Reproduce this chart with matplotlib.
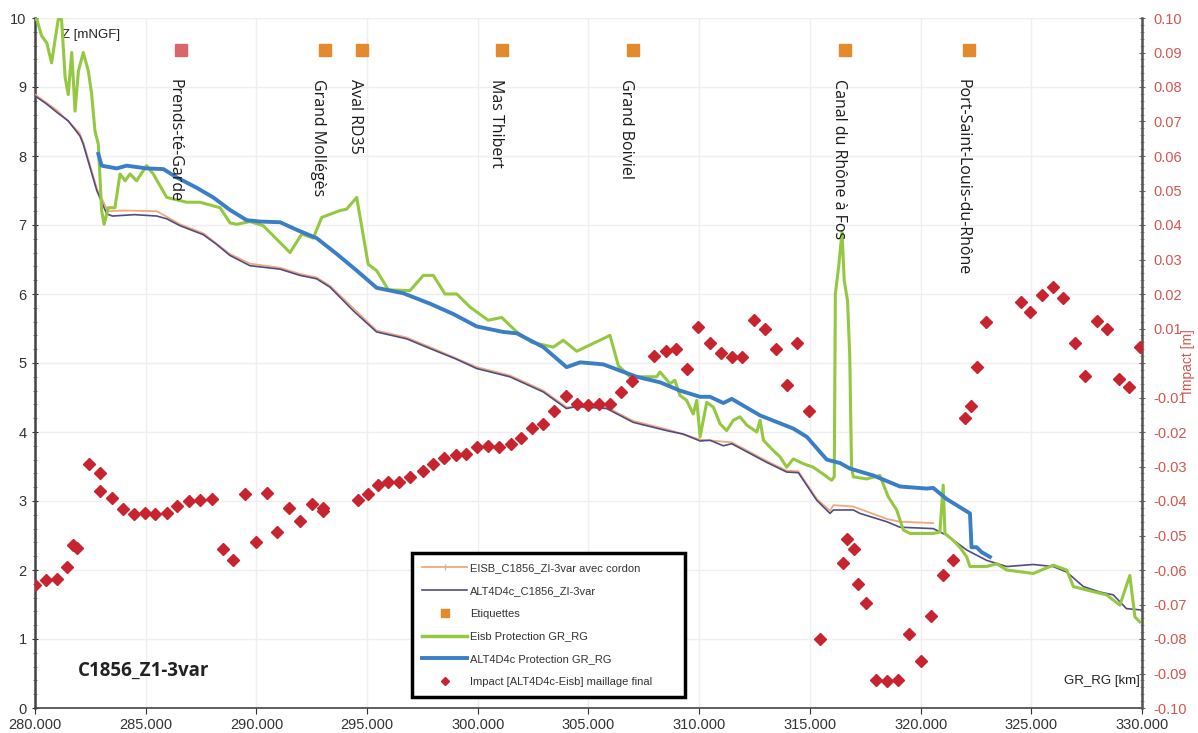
import matplotlib
matplotlib.use("Agg")
import matplotlib.pyplot as plt
from matplotlib.lines import Line2D
from matplotlib.ticker import MultipleLocator, FuncFormatter

# ---------------- data ----------------
# ALT4D4c_C1856_ZI-3var (thin navy line)
alt_km = [280.0, 280.5, 281.0, 281.5, 282.03, 282.18, 282.79, 283.24, 283.5, 284.5, 285.5, 285.95,
          286.55, 287.6, 288.2, 288.8, 289.71, 291.07, 291.97, 292.72, 293.32, 294.4, 295.43, 296.79,
          297.84, 299.0, 299.95, 301.45, 302.96, 304.0, 304.47, 305.82, 307.02, 308.53, 309.28, 310.04,
          310.49, 311.09, 311.47, 313.05, 313.95, 314.48, 315.31, 315.91, 316.06, 316.96, 317.26, 318.47,
          319.07, 320.57, 321.2, 322.08, 322.98, 323.89, 325.09, 325.99, 326.6, 327.35, 328.1, 328.7,
          329.3, 330.0]
alt_z = [8.87, 8.76, 8.63, 8.51, 8.29, 8.17, 7.50, 7.16, 7.13, 7.15, 7.13, 7.09,
         6.99, 6.86, 6.72, 6.56, 6.41, 6.36, 6.27, 6.22, 6.10, 5.75, 5.45, 5.35,
         5.21, 5.06, 4.92, 4.80, 4.58, 4.34, 4.37, 4.34, 4.14, 4.02, 3.97, 3.87,
         3.88, 3.80, 3.83, 3.56, 3.42, 3.41, 3.01, 2.82, 2.87, 2.87, 2.82, 2.70,
         2.62, 2.60, 2.50, 2.29, 2.14, 2.05, 2.08, 2.05, 1.97, 1.76, 1.68, 1.64,
         1.44, 1.42]

# EISB_C1856_ZI-3var avec cordon (thin orange line)
eisb_km = [280.0, 281.0, 282.0, 282.18, 282.8, 283.3, 283.99, 285.5, 285.95, 286.55, 287.6, 288.8,
           289.71, 291.07, 291.97, 292.72, 293.32, 295.43, 296.79, 297.84, 299.95, 301.45, 302.96, 304.0,
           305.82, 307.02, 308.53, 310.04, 311.47, 313.05, 313.95, 314.48, 315.31, 315.91, 316.06, 316.96,
           318.47, 319.07, 320.57]
eisb_z = [8.89, 8.66, 8.34, 8.20, 7.52, 7.20, 7.21, 7.20, 7.12, 7.01, 6.88, 6.58,
          6.44, 6.38, 6.29, 6.24, 6.12, 5.47, 5.37, 5.23, 4.94, 4.82, 4.60, 4.36,
          4.36, 4.16, 4.04, 3.89, 3.85, 3.58, 3.44, 3.43, 3.03, 2.86, 2.94, 2.92,
          2.74, 2.70, 2.68]

# ALT4D4c Protection GR_RG (thick blue line)
prot_alt_km = [282.86, 283.01, 283.69, 284.14, 285.04, 285.8, 286.4, 287.3, 288.05, 288.8, 289.56, 290.16,
               291.07, 291.82, 292.72, 293.63, 294.53, 295.43, 296.64, 297.84, 298.89, 299.95, 301.15,
               301.76, 302.96, 304.01, 304.62, 305.67, 306.42, 307.18, 308.23, 309.13, 310.04, 310.49,
               311.09, 311.47, 312.75, 314.25, 314.86, 315.76, 316.36, 316.81, 317.86, 319.07, 320.28,
               320.57, 321.17, 322.23, 322.3, 322.53, 322.75, 323.13]
prot_alt_z = [8.03, 7.86, 7.82, 7.86, 7.82, 7.81, 7.69, 7.54, 7.40, 7.22, 7.07, 7.05,
              7.04, 6.93, 6.81, 6.58, 6.34, 6.09, 6.01, 5.86, 5.71, 5.53, 5.45,
              5.43, 5.23, 4.94, 5.01, 4.98, 4.89, 4.80, 4.72, 4.60, 4.51, 4.51,
              4.42, 4.48, 4.24, 4.05, 3.93, 3.60, 3.55, 3.47, 3.37, 3.21, 3.18,
              3.19, 3.03, 2.82, 2.33, 2.33, 2.26, 2.19]

# Eisb Protection GR_RG (green line)
prot_eisb_km = [280.0, 280.08, 280.3, 280.53, 280.75, 280.9, 281.05, 281.2, 281.36, 281.5, 281.66, 281.81,
                281.96, 282.18, 282.41, 282.56, 282.71, 282.86, 283.01, 283.12, 283.31, 283.61, 283.84,
                284.07, 284.29, 284.59, 285.04, 285.34, 285.95, 286.85, 287.45, 288.36, 288.81, 289.11,
                289.71, 290.31, 291.52, 292.05, 292.57, 292.95, 293.78, 294.08, 294.53, 295.05, 295.43,
                295.96, 296.94, 297.54, 297.99, 298.52, 299.05, 299.65, 300.47, 301.08, 301.76, 302.44,
                303.41, 303.86, 304.47, 305.97, 306.35, 306.88, 308.08, 308.23, 308.68, 308.9, 309.13,
                309.43, 309.73, 309.89, 310.04, 310.34, 310.64, 310.94, 311.24, 311.54, 311.84, 312.15,
                312.6, 312.75, 312.9, 313.35, 313.65, 313.95, 314.25, 314.7, 315.15, 315.6, 315.98,
                316.1, 316.15, 316.3, 316.45, 316.55, 316.7, 316.8, 316.88, 316.96, 317.56, 318.16,
                318.54, 318.92, 319.22, 319.52, 320.57, 320.87, 321.02, 321.1, 321.47, 321.77, 322.08,
                322.23, 322.98, 323.43, 323.89, 325.09, 325.99, 326.6, 326.9, 327.5, 328.4, 329.0,
                329.45, 329.68, 329.9]
prot_eisb_z = [9.98, 9.98, 9.74, 9.64, 9.35, 9.67, 9.98, 9.98, 9.14, 8.89, 9.50, 8.65,
               9.23, 9.50, 9.23, 8.89, 8.36, 8.17, 7.21, 7.01, 7.25, 7.25, 7.74,
               7.64, 7.74, 7.64, 7.86, 7.74, 7.40, 7.33, 7.33, 7.25, 7.03, 7.01,
               7.05, 6.99, 6.60, 6.87, 6.81, 7.11, 7.21, 7.23, 7.40, 6.43, 6.34,
               6.06, 6.05, 6.27, 6.27, 6.00, 6.00, 5.81, 5.62, 5.66, 5.45, 5.30,
               5.23, 5.33, 5.17, 5.40, 4.96, 4.80, 4.80, 4.87, 4.70, 4.75, 4.53,
               4.46, 4.26, 4.46, 3.93, 4.43, 4.36, 4.12, 4.02, 4.17, 4.22, 4.10,
               4.00, 4.17, 3.88, 3.73, 3.64, 3.49, 3.61, 3.54, 3.49, 3.39, 3.30,
               3.35, 6.00, 6.40, 6.90, 6.20, 5.90, 5.10, 3.50, 3.35, 3.32, 3.37,
               3.06, 2.87, 2.58, 2.53, 2.53, 2.55, 3.23, 2.53, 2.43, 2.33, 2.19,
               2.05, 2.05, 2.09, 2.00, 1.95, 2.07, 2.00, 1.76, 1.71, 1.64, 1.49,
               1.92, 1.32, 1.25]

# Impact [ALT4D4c-Eisb] maillage final (red diamonds, right axis)
impact_km = [280.0, 280.5, 281.0, 281.46, 281.73, 281.91, 282.45, 282.94, 282.94, 283.5, 283.96, 284.47,
             284.95, 285.43, 285.98, 286.43, 286.97, 287.45, 287.99, 288.48, 288.96, 289.49, 289.97,
             290.49, 290.94, 291.49, 291.97, 292.5, 293.0, 293.02, 294.57, 295.03, 295.48, 295.96,
             296.44, 296.94, 297.51, 297.96, 298.49, 299.0, 299.47, 299.95, 300.45, 300.97, 301.49,
             301.96, 302.45, 302.96, 303.46, 303.98, 304.47, 304.96, 305.49, 305.97, 306.47, 306.98,
             307.97, 308.49, 308.97, 309.46, 309.96, 310.47, 310.97, 311.47, 311.95, 312.47, 312.98,
             313.47, 313.95, 314.43, 314.96, 315.46, 316.48, 316.69, 316.99, 317.18, 317.52, 318.0,
             318.5, 318.99, 319.48, 320.02, 320.47, 320.99, 321.47, 322.0, 322.26, 322.53, 322.94,
             324.52, 324.94, 325.48, 325.96, 326.44, 326.97, 327.42, 327.95, 328.44, 328.96, 329.42,
             329.92]
impact_m = [-0.0644, -0.063, -0.0626, -0.059, -0.0528, -0.0536, -0.0294, -0.032, -0.037, -0.039, -0.0422,
            -0.0437, -0.0435, -0.0438, -0.0435, -0.0415, -0.040, -0.0396, -0.0394, -0.054, -0.057, -0.038,
            -0.052, -0.0377, -0.049, -0.042, -0.0459, -0.041, -0.043, -0.042, -0.0396, -0.038, -0.0354,
            -0.0346, -0.0346, -0.033, -0.0313, -0.0292, -0.0274, -0.0268, -0.0264, -0.0244, -0.024,
            -0.0244, -0.0234, -0.0218, -0.0187, -0.0176, -0.0138, -0.0097, -0.012, -0.0123, -0.012,
            -0.0118, -0.0085, -0.0053, 0.0021, 0.0036, 0.004, -0.0018, 0.0105, 0.0058, 0.003, 0.0017,
            0.0017, 0.0126, 0.0099, 0.004, -0.0063, 0.0057, -0.0138, -0.080, -0.058, -0.051, -0.0538,
            -0.064, -0.0697, -0.0919, -0.0922, -0.0919, -0.0786, -0.0863, -0.0734, -0.0614, -0.057,
            -0.0158, -0.0126, -0.0012, 0.0118, 0.0178, 0.0147, 0.0197, 0.0221, 0.0189, 0.0057, -0.0037,
            0.0123, 0.0098, -0.0046, -0.007, 0.0046]

# Etiquettes (site labels)
label_km = [286.6, 293.1, 294.77, 301.1, 307.0, 316.6, 322.2]
label_names = ["Prends-té-Garde", "Grand Mollégès", "Aval RD35", "Mas Thibert",
               "Grand Boiviel", "Canal du Rhône à Fos", "Port-Saint-Louis-du-Rhône"]
label_colors = ["#d9666a", "#e38a2c", "#e38a2c", "#e38a2c", "#e38a2c", "#e38a2c", "#e38a2c"]
label_marker_z = 9.53
label_text_z = 9.12

x_ticks = [280, 285, 290, 295, 300, 305, 310, 315, 320, 325, 330]

# ---------------- styles ----------------
C_ORANGE = "#f2a878"
C_NAVY = "#4f4c85"
C_GREEN = "#93c840"
C_BLUE = "#3a7fc6"
C_RED = "#c8242f"
C_RIGHT = "#d2574f"
C_TICK = "#333333"

plt.rcParams['font.family'] = ['Liberation Sans', 'DejaVu Sans']

fig = plt.figure(figsize=(11.98, 7.33), dpi=100)
ax = fig.add_axes([35 / 1198, 25 / 733, (1142 - 35) / 1198, (708 - 18) / 733])
ax2 = ax.twinx()

ax.set_xlim(280, 330)
ax.set_ylim(0, 10)
ax2.set_ylim(-0.1, 0.1)

# grid
ax.set_xticks(x_ticks)
ax.set_yticks(range(0, 11))
ax.grid(True, color="#efefef", linewidth=1.0)
ax.set_axisbelow(True)

# lines
ax.plot(eisb_km, eisb_z, color=C_ORANGE, lw=1.3, zorder=3)
ax.plot(alt_km, alt_z, color=C_NAVY, lw=1.2, zorder=3)
ax.plot(prot_eisb_km, prot_eisb_z, color=C_GREEN, lw=2.2, zorder=4)
ax.plot(prot_alt_km, prot_alt_z, color=C_BLUE, lw=2.8, zorder=5)

# labels
for km, name, col in zip(label_km, label_names, label_colors):
    ax.plot([km], [label_marker_z], marker="s", ms=9, color=col, mec=col, zorder=6)
    ax.text(km - 0.3, label_text_z, name, rotation=270, ha="center", va="top",
            fontsize=11.5, color="#1a1a1a", family=["Open Sans", "DejaVu Sans"], zorder=6)

# impact points
ax2.plot(impact_km, impact_m, linestyle="none", marker="D", ms=6.2, color=C_RED, mec=C_RED, zorder=7)

# axes styling
for a in (ax, ax2):
    a.spines["top"].set_visible(False)
ax.spines["left"].set_color("#444444")
ax.spines["left"].set_linewidth(1.8)
ax.spines["bottom"].set_color("#444444")
ax.spines["bottom"].set_linewidth(1.2)
ax2.spines["right"].set_color("#555555")
ax2.spines["right"].set_linewidth(1.8)
ax2.spines["left"].set_visible(False)
ax2.spines["bottom"].set_visible(False)

ax.xaxis.set_major_formatter(FuncFormatter(lambda v, p: f"{v:.3f}"))
ax.tick_params(axis="x", labelsize=10.5, colors=C_TICK, length=4, direction="out")
ax.tick_params(axis="y", labelsize=10.5, colors=C_TICK, length=5, direction="inout")
ax.yaxis.set_minor_locator(MultipleLocator(0.2))
ax.tick_params(axis="y", which="minor", length=3, direction="inout", color="#666666")

ax2.set_yticks([round(-0.1 + 0.01 * i, 2) for i in range(21)])
ax2.yaxis.set_major_formatter(FuncFormatter(lambda v, p: "" if abs(v) < 1e-9 else f"{v:.2f}"))
ax2.yaxis.set_minor_locator(MultipleLocator(0.002))
ax2.tick_params(axis="y", labelsize=10.5, labelcolor=C_RIGHT, color="#666666", length=5,
                direction="inout", pad=6)
ax2.tick_params(axis="y", which="minor", length=3, direction="inout", color="#888888")

# axis titles (inside)
ax.text(0.0245, 0.984, "Z [mNGF]", transform=ax.transAxes, fontsize=9.5, color="#222222",
        ha="left", va="top")
ax.text(0.998, 0.03, "GR_RG [km]", transform=ax.transAxes, fontsize=9.5, color="#222222",
        ha="right", va="bottom")
fig.text(1188 / 1198, 1 - 362 / 733, "Impact [m]", rotation=90, color=C_RIGHT, fontsize=10,
         ha="center", va="center")
ax.text(0.039, 0.04, "C1856_Z1-3var", transform=ax.transAxes, fontsize=13.5, fontweight="bold",
        color="#222222", ha="left", va="bottom", family=["Open Sans", "DejaVu Sans"])

# legend
handles = [
    Line2D([], [], color=C_ORANGE, lw=1.3, marker="|", ms=4, mec="#bbbbbb", markevery=[1]),
    Line2D([], [], color=C_NAVY, lw=1.2),
    Line2D([], [], color="#e38a2c", lw=0, marker="s", ms=6),
    Line2D([], [], color=C_GREEN, lw=2.5),
    Line2D([], [], color=C_BLUE, lw=2.8),
    Line2D([], [], color=C_RED, lw=0, marker="D", ms=4.5),
]
labels = ["EISB_C1856_ZI-3var avec cordon", "ALT4D4c_C1856_ZI-3var", "Etiquettes",
          "Eisb Protection GR_RG", "ALT4D4c Protection GR_RG",
          "Impact [ALT4D4c-Eisb] maillage final"]
leg = ax2.legend(handles, labels, loc="lower left", bbox_to_anchor=(0.341, 0.016, 0.246, 0.22),
                 mode="expand", fontsize=8, handlelength=4.0, labelspacing=1.15, borderpad=0.9,
                 fancybox=False, frameon=True, framealpha=1, edgecolor="black",
                 handletextpad=0.3, borderaxespad=0)
leg.get_frame().set_linewidth(2.5)
for t in leg.get_texts():
    t.set_color("#333333")
leg.set_zorder(20)

fig.savefig("out.png", dpi=100)
